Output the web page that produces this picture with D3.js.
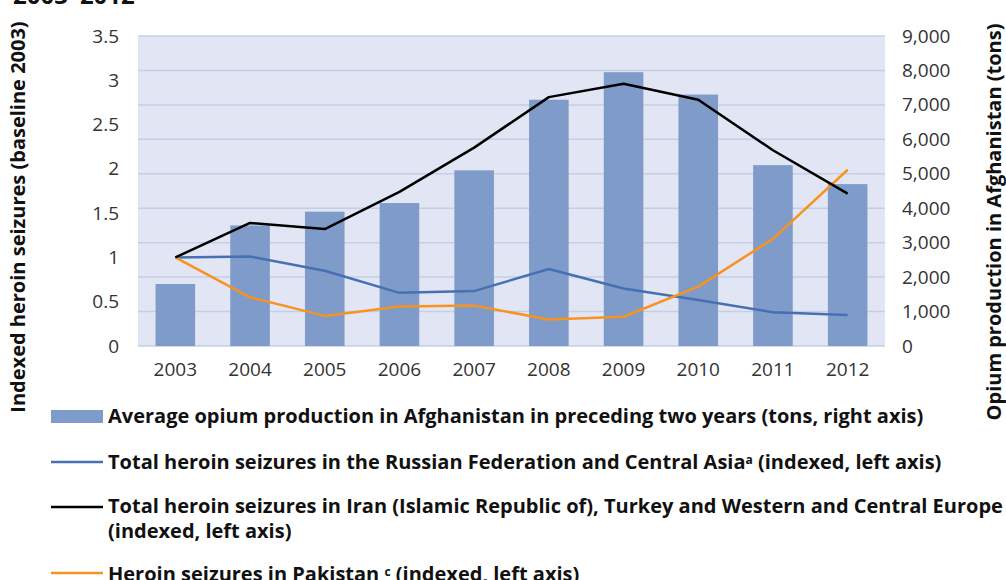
<!DOCTYPE html>
<html>
<head>
<meta charset="utf-8">
<script src="https://cdn.jsdelivr.net/npm/d3@7"></script>
<style>
  body { margin: 0; background: #fff; }
  svg { display: block; font-family: "Open Sans", sans-serif; }
</style>
</head>
<body>
<div id="chart"></div>
<script>
// values
const years = ["2003", "2004", "2005", "2006", "2007", "2008", "2009", "2010", "2011", "2012"];
const opium = [1800, 3500, 3900, 4150, 5100, 7150, 7950, 7300, 5250, 4700];   // tons, right axis
const russia = [1.0, 1.01, 0.85, 0.6, 0.62, 0.87, 0.65, 0.52, 0.38, 0.35];
const iranEurope = [1.0, 1.39, 1.32, 1.74, 2.24, 2.81, 2.96, 2.78, 2.21, 1.72];
const pakistan = [1.0, 0.55, 0.34, 0.445, 0.456, 0.3, 0.33, 0.67, 1.21, 1.99];
const leftTicks = [0, 0.5, 1, 1.5, 2, 2.5, 3, 3.5];
const rightTicks = [0, 1000, 2000, 3000, 4000, 5000, 6000, 7000, 8000, 9000];

const width = 1006;
const height = 580;
const plot = { left: 138, right: 885, top: 36, bottom: 346 };

const svg = d3.select("#chart")
  .append("svg")
  .attr("width", width)
  .attr("height", height);

const x = d3.scaleBand()
  .domain(years)
  .range([plot.left, plot.right]);

const yLeft = d3.scaleLinear()
  .domain([0, 3.5])
  .range([plot.bottom, plot.top]);

const yRight = d3.scaleLinear()
  .domain([0, 9000])
  .range([plot.bottom, plot.top]);

// cut-off title at the top
svg.append("text")
  .attr("x", 13)
  .attr("y", 4)
  .attr("font-size", 24)
  .attr("font-weight", "bold")
  .attr("fill", "#111")
  .text("2003–2012");

// plot background
svg.append("rect")
  .attr("x", plot.left)
  .attr("y", plot.top)
  .attr("width", plot.right - plot.left)
  .attr("height", plot.bottom - plot.top)
  .attr("fill", "#e2e6f4");

// gridlines follow the right axis
svg.append("g")
  .selectAll("line")
  .data(rightTicks)
  .enter()
  .append("line")
  .attr("x1", plot.left)
  .attr("x2", plot.right)
  .attr("y1", d => yRight(d))
  .attr("y2", d => yRight(d))
  .attr("stroke", "#c6cee4")
  .attr("stroke-width", 1.5);

// bars
const barW = x.bandwidth() * 0.53;
svg.append("g")
  .selectAll("rect")
  .data(years)
  .enter()
  .append("rect")
  .attr("x", (d, i) => x(d) + (x.bandwidth() - barW) / 2)
  .attr("y", (d, i) => yRight(opium[i]))
  .attr("width", barW)
  .attr("height", (d, i) => plot.bottom - yRight(opium[i]))
  .attr("fill", "#7e9bca");

// lines
const line = d3.line()
  .x((d, i) => x(years[i]) + x.bandwidth() / 2)
  .y(d => yLeft(d));

const series = [
  { values: russia, color: "#4670b2" },
  { values: pakistan, color: "#f7931e" },
  { values: iranEurope, color: "#000000" }
];

series.forEach(s => {
  svg.append("path")
    .datum(s.values)
    .attr("d", line)
    .attr("fill", "none")
    .attr("stroke", s.color)
    .attr("stroke-width", 2.5)
    .attr("stroke-linejoin", "round");
});

// axes
const tickStyle = g => {
  g.select(".domain").remove();
  g.selectAll("text")
    .attr("font-size", 19)
    .attr("font-family", "Open Sans, sans-serif")
    .attr("fill", "#333");
};

svg.append("g")
  .attr("transform", `translate(${plot.left},0)`)
  .call(d3.axisLeft(yLeft).tickValues(leftTicks).tickSize(0).tickPadding(19).tickFormat(d3.format("")))
  .call(tickStyle);

svg.append("g")
  .attr("transform", `translate(${plot.right},0)`)
  .call(d3.axisRight(yRight).tickValues(rightTicks).tickSize(0).tickPadding(17).tickFormat(d3.format(",")))
  .call(tickStyle);

svg.append("g")
  .attr("transform", `translate(0,${plot.bottom})`)
  .call(d3.axisBottom(x).tickSize(0).tickPadding(17))
  .call(tickStyle);

// axis titles
svg.append("text")
  .attr("transform", "translate(25,217) rotate(-90)")
  .attr("text-anchor", "middle")
  .attr("font-size", 20)
  .attr("font-weight", "bold")
  .attr("fill", "#111")
  .text("Indexed heroin seizures (baseline 2003)");

svg.append("text")
  .attr("transform", "translate(1001,222) rotate(-90)")
  .attr("text-anchor", "middle")
  .attr("font-size", 20)
  .attr("font-weight", "bold")
  .attr("fill", "#111")
  .text("Opium production in Afghanistan (tons)");

// legend
const legend = svg.append("g")
  .attr("font-size", 20)
  .attr("font-weight", "bold")
  .attr("fill", "#111");

legend.append("rect")
  .attr("x", 51).attr("y", 410)
  .attr("width", 52).attr("height", 13)
  .attr("fill", "#7e9bca");
legend.append("text")
  .attr("x", 108).attr("y", 423)
  .text("Average opium production in Afghanistan in preceding two years (tons, right axis)");

const legendLines = [
  { y: 462, color: "#4670b2" },
  { y: 507, color: "#000000" },
  { y: 573, color: "#f7931e" }
];
legendLines.forEach(d => {
  legend.append("line")
    .attr("x1", 51).attr("x2", 103)
    .attr("y1", d.y).attr("y2", d.y)
    .attr("stroke", d.color)
    .attr("stroke-width", 2.5);
});

const t2 = legend.append("text").attr("x", 108).attr("y", 469);
t2.append("tspan").text("Total heroin seizures in the Russian Federation and Central Asia");
t2.append("tspan").attr("font-size", 12).attr("dy", -5).text("a");
t2.append("tspan").attr("dy", 5).text(" (indexed, left axis)");

legend.append("text")
  .attr("x", 108).attr("y", 513)
  .text("Total heroin seizures in Iran (Islamic Republic of), Turkey and Western and Central Europe");
legend.append("text")
  .attr("x", 108).attr("y", 538)
  .text("(indexed, left axis)");

const t4 = legend.append("text").attr("x", 108).attr("y", 581);
t4.append("tspan").text("Heroin seizures in Pakistan ");
t4.append("tspan").attr("font-size", 12).attr("dy", -5).text("c");
t4.append("tspan").attr("dy", 5).text(" (indexed, left axis)");
</script>
</body>
</html>
